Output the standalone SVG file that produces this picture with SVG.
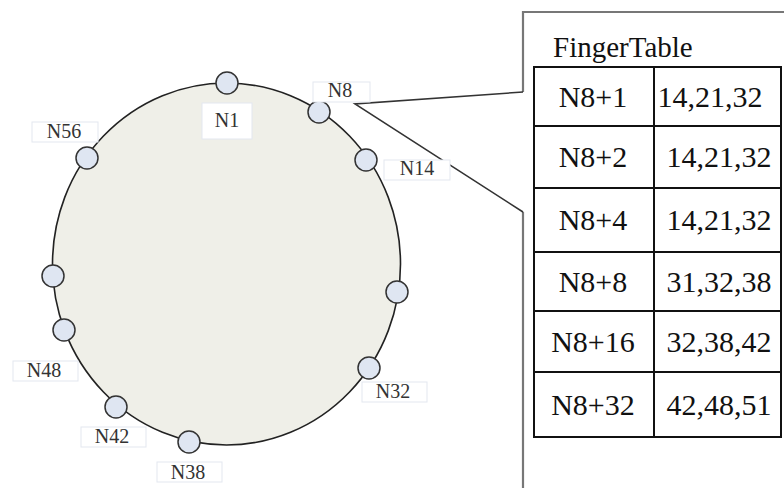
<svg xmlns="http://www.w3.org/2000/svg" width="784" height="488" viewBox="0 0 784 488">
<style>
.ring{fill:#efefe8;stroke:#222;stroke-width:1.6}
.nd{fill:#dfe6f2;stroke:#333;stroke-width:1.5}
.lb{fill:#fff;stroke:#e3e7ef;stroke-width:1}
.lt{font-family:'Liberation Serif',serif;font-size:20px;fill:#333;text-anchor:middle}
.tt{font-size:30px;fill:#111;text-anchor:middle}
.cell{fill:#fff;stroke:#111;stroke-width:2}
.co{fill:none;stroke:#333;stroke-width:1.6}
.cv{fill:none;stroke:#777;stroke-width:2.2}
</style>
<rect width="784" height="488" fill="#fff"/>
<ellipse class="ring" cx="226.5" cy="264" rx="174" ry="181"/>
<g id="connectors">
<path class="cv" d="M784 12 H523 V92 M523 212 V488"/>
<path class="co" d="M523 92 L355 104 L523 212"/>
</g>
<g id="n1"><circle class="nd" cx="227" cy="83" r="11"/><rect class="lb" x="202" y="103" width="50" height="36"/><text class="lt" x="227" y="127">N1</text></g>
<g id="n8"><circle class="nd" cx="319" cy="112" r="11"/><rect class="lb" x="313" y="82" width="57" height="20"/><text class="lt" x="340" y="97">N8</text></g>
<g id="n14"><circle class="nd" cx="366" cy="160" r="11"/><rect class="lb" x="384" y="160" width="66" height="20"/><text class="lt" x="417" y="175">N14</text></g>
<g id="n56"><circle class="nd" cx="87" cy="158" r="11"/><rect class="lb" x="32" y="122" width="66" height="20"/><text class="lt" x="64" y="138">N56</text></g>
<g id="n-left"><circle class="nd" cx="53" cy="276" r="11"/></g>
<g id="n48"><circle class="nd" cx="64" cy="330" r="11"/><rect class="lb" x="13" y="361" width="65" height="20"/><text class="lt" x="44" y="377">N48</text></g>
<g id="n42"><circle class="nd" cx="116" cy="407" r="11"/><rect class="lb" x="81" y="427" width="65" height="20"/><text class="lt" x="112" y="443">N42</text></g>
<g id="n38"><circle class="nd" cx="189" cy="442" r="11"/><rect class="lb" x="157" y="462" width="65" height="20"/><text class="lt" x="188" y="479">N38</text></g>
<g id="n32"><circle class="nd" cx="369" cy="368" r="11"/><rect class="lb" x="362" y="382" width="65" height="20"/><text class="lt" x="393" y="398">N32</text></g>
<g id="n-right"><circle class="nd" cx="397" cy="292" r="11"/></g>
<g id="fingertable" font-family="'Liberation Serif', serif">
<text x="553" y="57" font-size="29" fill="#111">FingerTable</text>
<rect class="cell" x="534" y="67" width="247" height="370"/>
<path class="cell" d="M654 67 V437 M534 126 H781 M534 188 H781 M534 252 H781 M534 311 H781 M534 372 H781"/>
<text class="tt" x="593" y="107">N8+1</text><text class="tt" x="710" y="107">14,21,32</text>
<text class="tt" x="593" y="167">N8+2</text><text class="tt" x="719" y="167">14,21,32</text>
<text class="tt" x="593" y="230">N8+4</text><text class="tt" x="719" y="230">14,21,32</text>
<text class="tt" x="593" y="292">N8+8</text><text class="tt" x="719" y="292">31,32,38</text>
<text class="tt" x="593" y="352">N8+16</text><text class="tt" x="719" y="352">32,38,42</text>
<text class="tt" x="593" y="415">N8+32</text><text class="tt" x="719" y="415">42,48,51</text>
</g>
</svg>
